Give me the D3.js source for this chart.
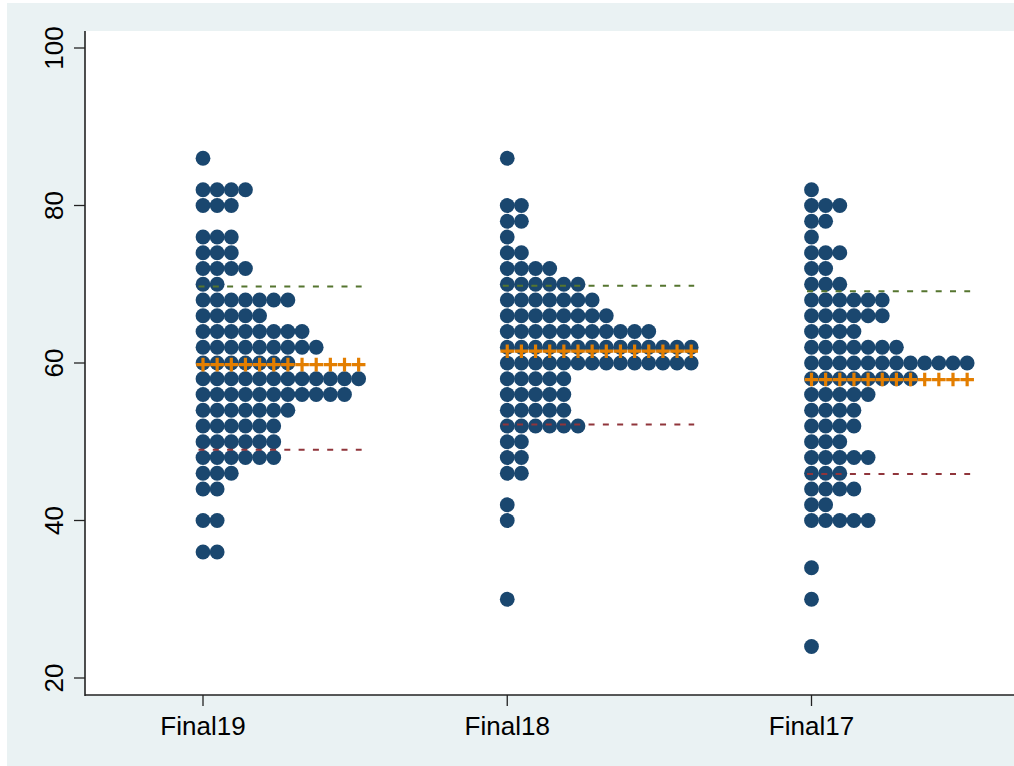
<!DOCTYPE html>
<html>
<head>
<meta charset="utf-8">
<script src="https://cdn.jsdelivr.net/npm/d3@7"></script>
<style>
  html, body { margin: 0; padding: 0; background: #ffffff; }
  svg { display: block; }
  text { font-family: "Liberation Sans", Arial, Helvetica, sans-serif; }
</style>
</head>
<body>
<svg id="chart" width="1014" height="766"></svg>
<script>
// ---- data ----
const categories = ["Final19", "Final18", "Final17"];
const binValues = [24, 26, 28, 30, 32, 34, 36, 38, 40, 42, 44, 46, 48, 50, 52, 54,
                   56, 58, 60, 62, 64, 66, 68, 70, 72, 74, 76, 78, 80, 82, 84, 86];
const countsFinal19 = [0, 0, 0, 0, 0, 0, 2, 0, 2, 0, 2, 3, 6, 6, 6, 7,
                       11, 12, 7, 9, 8, 5, 7, 2, 4, 3, 3, 0, 3, 4, 0, 1];
const countsFinal18 = [0, 0, 0, 1, 0, 0, 0, 0, 1, 1, 0, 2, 2, 2, 6, 5,
                       5, 5, 14, 14, 11, 8, 7, 6, 4, 2, 1, 2, 2, 0, 0, 1];
const countsFinal17 = [1, 0, 0, 1, 0, 1, 0, 0, 5, 2, 4, 3, 5, 3, 4, 4,
                       5, 8, 12, 7, 4, 6, 6, 3, 2, 3, 1, 2, 3, 1, 0, 0];
const centerValues = [59.8, 61.5, 57.9];
const upperValues = [69.7, 69.8, 69.1];
const lowerValues = [49.0, 52.2, 45.9];
const yTicks = [20, 40, 60, 80, 100];

const countsByCategory = [countsFinal19, countsFinal18, countsFinal17];

// ---- colors ----
const bgColor = "#eaf2f3";
const dotColor = "#1a476f";
const plusColor = "#e37e00";
const upperColor = "#55752f";
const lowerColor = "#90353b";

// ---- layout ----
const svg = d3.select("#chart");
const W = 1014, H = 766;
const plot = { left: 85, top: 31, right: 1014, bottom: 695 };

svg.append("rect").attr("x", 0).attr("y", 0).attr("width", W).attr("height", H).attr("fill", "#ffffff");
svg.append("rect").attr("x", 7).attr("y", 3).attr("width", W - 7).attr("height", H - 3).attr("fill", bgColor);
svg.append("rect").attr("x", plot.left).attr("y", plot.top)
  .attr("width", plot.right - plot.left).attr("height", plot.bottom - plot.top).attr("fill", "#ffffff");

const x = d3.scalePoint().domain(categories).range([203, 811.5]);
const y = d3.scaleLinear().domain([20, 100]).range([678, 48]);
const step = d3.scaleLinear().domain([0, 1]).range([0, 14.15]);

// ---- dots ----
const dots = [];
categories.forEach((c, ci) => {
  countsByCategory[ci].forEach((n, bi) => {
    for (let k = 0; k < n; k++) dots.push({ cat: c, value: binValues[bi], k });
  });
});

svg.append("g").selectAll("circle").data(dots).join("circle")
  .attr("cx", d => x(d.cat) + step(d.k))
  .attr("cy", d => y(d.value))
  .attr("r", 7.4)
  .attr("fill", dotColor);

// ---- mean ± sd dashed lines ----
const summary = categories.map((c, ci) => ({
  cat: c,
  n: d3.max(countsByCategory[ci]),
  center: centerValues[ci],
  upper: upperValues[ci],
  lower: lowerValues[ci]
}));

const lineG = svg.append("g");
summary.forEach(s => {
  const x0 = x(s.cat) - 4.5;
  const x1 = x(s.cat) + step(s.n - 1) + 3;
  lineG.append("line").attr("x1", x0).attr("x2", x1)
    .attr("y1", y(s.upper)).attr("y2", y(s.upper))
    .attr("stroke", upperColor).attr("stroke-width", 2).attr("stroke-dasharray", "6,8.3");
  lineG.append("line").attr("x1", x0).attr("x2", x1)
    .attr("y1", y(s.lower)).attr("y2", y(s.lower))
    .attr("stroke", lowerColor).attr("stroke-width", 2).attr("stroke-dasharray", "6,8.3");
});

// ---- plus markers ----
const pluses = [];
summary.forEach(s => { for (let k = 0; k < s.n; k++) pluses.push({ cat: s.cat, value: s.center, k }); });
const plusG = svg.append("g");
const ps = 6.8;
plusG.selectAll("path").data(pluses).join("path")
  .attr("d", d => {
    const cx = x(d.cat) + step(d.k), cy = y(d.value);
    return `M${cx - ps},${cy}H${cx + ps}M${cx},${cy - ps}V${cy + ps}`;
  })
  .attr("stroke", plusColor).attr("stroke-width", 3.2).attr("fill", "none");

// ---- axes ----
const axisColor = "#222";
// y axis
svg.append("line").attr("x1", plot.left).attr("x2", plot.left)
  .attr("y1", plot.top).attr("y2", plot.bottom + 1)
  .attr("stroke", axisColor).attr("stroke-width", 1.6);
const yAxisG = svg.append("g");
yTicks.forEach(t => {
  yAxisG.append("line").attr("x1", plot.left - 11).attr("x2", plot.left)
    .attr("y1", y(t)).attr("y2", y(t)).attr("stroke", axisColor).attr("stroke-width", 1.3);
  yAxisG.append("text")
    .attr("transform", `translate(63,${y(t)}) rotate(-90)`)
    .attr("text-anchor", "middle")
    .attr("font-size", 26)
    .attr("fill", "#000")
    .text(t);
});
// x axis
svg.append("line").attr("x1", plot.left).attr("x2", plot.right)
  .attr("y1", plot.bottom).attr("y2", plot.bottom)
  .attr("stroke", axisColor).attr("stroke-width", 1.6);
const xAxisG = svg.append("g");
categories.forEach(c => {
  xAxisG.append("line").attr("x1", x(c)).attr("x2", x(c))
    .attr("y1", plot.bottom).attr("y2", plot.bottom + 11).attr("stroke", axisColor).attr("stroke-width", 1.3);
  xAxisG.append("text")
    .attr("x", x(c)).attr("y", 735)
    .attr("text-anchor", "middle")
    .attr("font-size", 26)
    .attr("fill", "#000")
    .text(c);
});
</script>
</body>
</html>
